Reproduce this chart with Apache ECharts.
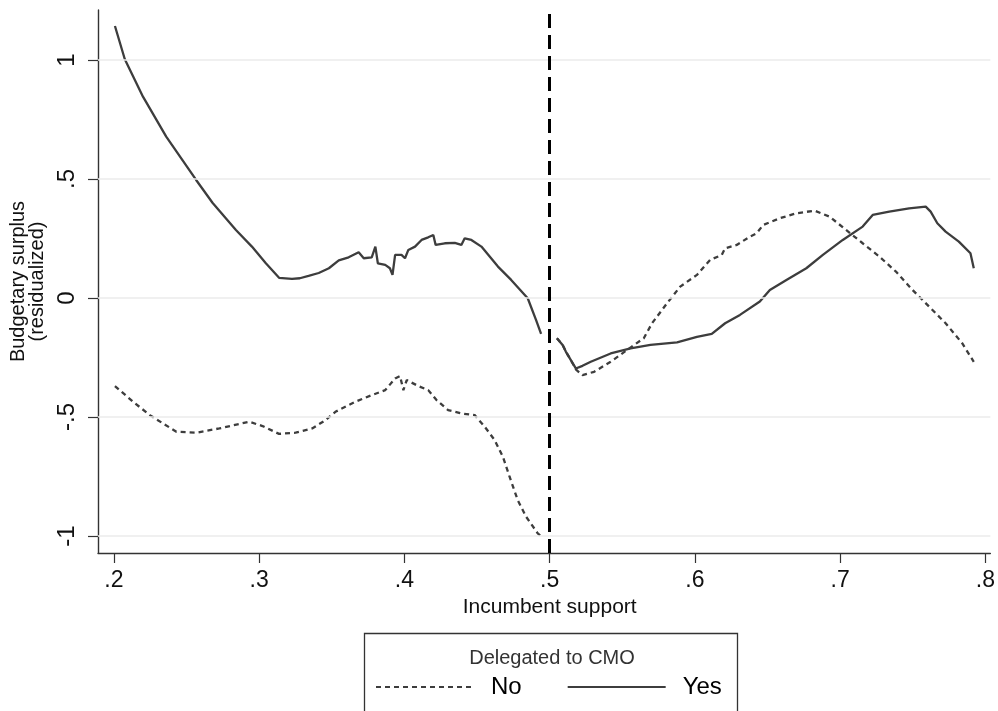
<!DOCTYPE html>
<html>
<head>
<meta charset="utf-8">
<script src="https://cdn.jsdelivr.net/npm/echarts@6.0.0/dist/echarts.min.js"></script>
<style>
  html, body { margin: 0; padding: 0; background: #fff; }
  #chart { width: 998px; height: 711px; }
</style>
</head>
<body>
<div id="chart"></div>
<script>
// ---- Data ----
const xTickValues = [0.2, 0.3, 0.4, 0.5, 0.6, 0.7, 0.8];
const xTickLabels = ['.2', '.3', '.4', '.5', '.6', '.7', '.8'];
const yTickValues = [-1, -0.5, 0, 0.5, 1];
const yTickLabels = ['-1', '-.5', '0', '.5', '1'];
const cutoff = 0.5;

const yesLeft = [[0.2007,1.143],[0.2075,1.003],[0.220,0.846],[0.236,0.678],[0.2566,0.496],[0.268,0.399],[0.284,0.286],[0.295,0.216],[0.3046,0.146],[0.3137,0.085],[0.3226,0.080],[0.328,0.083],[0.334,0.093],[0.341,0.105],[0.348,0.125],[0.3548,0.158],[0.3616,0.171],[0.3685,0.192],[0.372,0.167],[0.3775,0.171],[0.380,0.216],[0.3817,0.146],[0.3868,0.139],[0.390,0.125],[0.3918,0.097],[0.3936,0.181],[0.398,0.181],[0.4004,0.167],[0.4027,0.202],[0.4073,0.216],[0.4118,0.244],[0.4164,0.255],[0.4199,0.265],[0.4215,0.223],[0.4278,0.230],[0.4347,0.232],[0.4392,0.223],[0.4415,0.251],[0.4461,0.244],[0.453,0.216],[0.4644,0.132],[0.4735,0.076],[0.4849,-0.001],[0.4906,-0.092],[0.4941,-0.151]];
const yesRight = [[0.505,-0.169],[0.5089,-0.197],[0.5112,-0.226],[0.5146,-0.261],[0.518,-0.296],[0.5226,-0.285],[0.5283,-0.268],[0.542,-0.233],[0.5557,-0.212],[0.5694,-0.197],[0.5877,-0.186],[0.6014,-0.163],[0.6116,-0.151],[0.6208,-0.106],[0.631,-0.071],[0.6447,-0.015],[0.6516,0.034],[0.663,0.076],[0.6767,0.125],[0.6881,0.181],[0.7018,0.244],[0.7155,0.300],[0.7224,0.349],[0.7338,0.363],[0.7475,0.377],[0.7589,0.384],[0.7623,0.363],[0.7669,0.314],[0.7726,0.279],[0.7817,0.237],[0.7897,0.188],[0.792,0.125]];
const noLeft = [[0.2007,-0.370],[0.2132,-0.436],[0.2247,-0.492],[0.2338,-0.527],[0.243,-0.562],[0.2566,-0.566],[0.2726,-0.548],[0.2863,-0.529],[0.2932,-0.520],[0.3023,-0.538],[0.3137,-0.571],[0.3251,-0.566],[0.3365,-0.548],[0.3457,-0.513],[0.3525,-0.478],[0.3662,-0.436],[0.3776,-0.408],[0.3868,-0.387],[0.3936,-0.338],[0.397,-0.328],[0.3993,-0.387],[0.4016,-0.345],[0.4096,-0.370],[0.4164,-0.387],[0.4221,-0.429],[0.4301,-0.471],[0.4392,-0.485],[0.4484,-0.492],[0.4553,-0.541],[0.4621,-0.597],[0.4678,-0.667],[0.4724,-0.751],[0.478,-0.849],[0.4838,-0.919],[0.4918,-0.989],[0.494,-1.0]];
const noRight = [[0.505,-0.169],[0.5089,-0.197],[0.5112,-0.226],[0.5146,-0.261],[0.518,-0.300],[0.5226,-0.324],[0.5306,-0.310],[0.542,-0.268],[0.5534,-0.218],[0.5648,-0.169],[0.5705,-0.106],[0.5808,-0.022],[0.5899,0.048],[0.6014,0.097],[0.6105,0.160],[0.6185,0.181],[0.6208,0.209],[0.6288,0.223],[0.6379,0.258],[0.6425,0.272],[0.647,0.307],[0.6584,0.335],[0.6699,0.356],[0.6824,0.367],[0.6927,0.342],[0.7041,0.286],[0.7155,0.230],[0.727,0.174],[0.7384,0.111],[0.7498,0.034],[0.7612,-0.036],[0.7726,-0.106],[0.784,-0.190],[0.792,-0.268]];

const seriesNames = ['No', 'Yes'];
const legendTitle = 'Delegated to CMO';
const xTitle = 'Incumbent support';
const yTitle = 'Budgetary surplus\n(residualized)';

// ---- Chart ----
const FONT = '"Liberation Sans", Arial, Helvetica, sans-serif';
const LINE_COLOR = '#3d3d3d';
const gap = [cutoff, null];

const chart = echarts.init(document.getElementById('chart'), null, { renderer: 'canvas' });

const xLabelMap = {}; xTickValues.forEach((v, i) => xLabelMap[v.toFixed(2)] = xTickLabels[i]);
const yLabelMap = {}; yTickValues.forEach((v, i) => yLabelMap[v.toFixed(2)] = yTickLabels[i]);

const option = {
  animation: false,
  backgroundColor: '#ffffff',
  textStyle: { fontFamily: FONT },
  grid: { left: 98, right: 3, top: 10, bottom: 158, containLabel: false },
  xAxis: {
    type: 'value',
    min: 0.18904,
    max: 0.80342,
    name: xTitle,
    nameLocation: 'middle',
    nameGap: 42,
    nameTextStyle: { fontSize: 21, color: '#111', fontFamily: FONT, padding: [0, 0, 0, 11] },
    axisLine: { show: true, onZero: false, lineStyle: { color: '#333', width: 1.4 } },
    axisTick: { show: true, length: 10, lineStyle: { color: '#333', width: 1.2 }, customValues: xTickValues },
    axisLabel: {
      customValues: xTickValues,
      fontSize: 23, color: '#111', fontFamily: FONT, margin: 16,
      formatter: v => xLabelMap[Number(v).toFixed(2)] ?? ''
    },
    splitLine: { show: false },
    minorTick: { show: false }
  },
  yAxis: {
    type: 'value',
    min: -1.0714,
    max: 1.2101,
    name: yTitle,
    nameLocation: 'middle',
    nameGap: 49,
    nameRotate: 90,
    nameTextStyle: { fontSize: 20, lineHeight: 19, color: '#111', fontFamily: FONT },
    axisLine: { show: true, onZero: false, lineStyle: { color: '#333', width: 1.4 } },
    axisTick: { show: true, length: 10, lineStyle: { color: '#333', width: 1.2 }, customValues: yTickValues },
    axisLabel: {
      customValues: yTickValues,
      rotate: 90,
      fontSize: 24, color: '#111', fontFamily: FONT, margin: 19,
      formatter: v => yLabelMap[Number(v).toFixed(2)] ?? ''
    },
    splitLine: { show: false }
  },
  legend: {
    data: seriesNames,
    left: 375,
    top: 675,
    padding: 0,
    itemWidth: 98,
    itemHeight: 14,
    itemGap: 45,
    selectedMode: false,
    itemStyle: { color: 'rgba(0,0,0,0)', borderColor: 'rgba(0,0,0,0)', borderWidth: 0 },
    textStyle: { fontSize: 24, color: '#000', fontFamily: FONT, padding: [0, 0, 0, 12] }
  },
  graphic: [
    {
      type: 'rect',
      shape: { x: 364.5, y: 633.5, width: 373, height: 100 },
      style: { fill: 'none', stroke: '#333', lineWidth: 1.3 },
      silent: true
    },
    {
      type: 'text',
      x: 552, y: 658,
      style: {
        text: legendTitle, fill: '#333', font: '20px ' + FONT,
        textAlign: 'center', textVerticalAlign: 'middle'
      },
      silent: true
    }
  ],
  series: [
    {
      name: '_grid',
      type: 'line',
      data: [],
      z: 1,
      silent: true,
      markLine: {
        silent: true,
        symbol: 'none',
        label: { show: false },
        animation: false,
        lineStyle: { color: '#ebebeb', width: 1.6, type: 'solid' },
        data: yTickValues.map(v => ({ yAxis: v }))
      }
    },
    {
      name: seriesNames[0],
      type: 'line',
      data: noLeft.concat([gap], noRight),
      showSymbol: false,
      symbol: 'none',
      connectNulls: false,
      z: 3,
      lineStyle: { color: LINE_COLOR, width: 2.3, type: [5, 4] },
      itemStyle: { color: LINE_COLOR }
    },
    {
      name: seriesNames[1],
      type: 'line',
      data: yesLeft.concat([gap], yesRight),
      showSymbol: false,
      symbol: 'none',
      connectNulls: false,
      z: 3,
      lineStyle: { color: LINE_COLOR, width: 2.3, type: 'solid' },
      itemStyle: { color: LINE_COLOR }
    },
    {
      name: '_cutoff',
      type: 'line',
      data: [],
      z: 5,
      silent: true,
      markLine: {
        silent: true,
        symbol: 'none',
        label: { show: false },
        animation: false,
        lineStyle: { color: '#000', width: 3, type: [14, 7] },
        data: [{ xAxis: cutoff }]
      }
    }
  ]
};

chart.setOption(option);
</script>
</body>
</html>
